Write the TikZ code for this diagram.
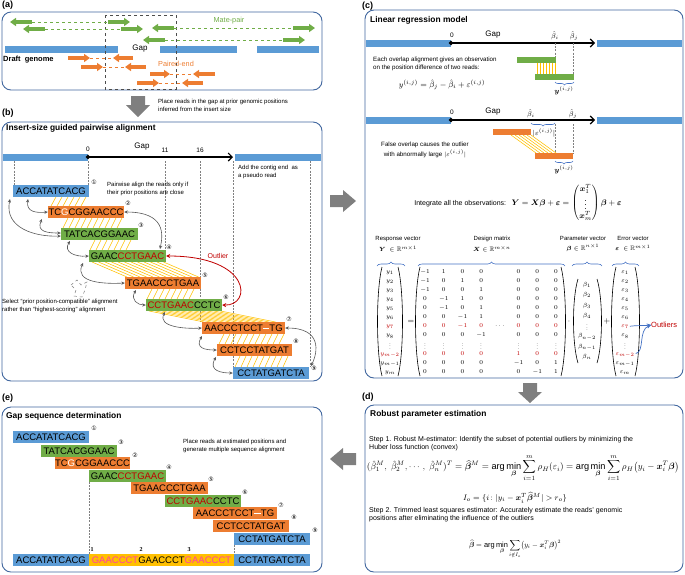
\documentclass[tikz,border=0pt]{standalone}
\usepackage{amsmath,amssymb,bm}
\usepackage{graphicx}
\usepackage{fontspec}
\setmainfont{Liberation Sans}
\newfontfamily\dejavu{DejaVu Sans}
\newfontfamily\serifnum{Liberation Serif}
\usetikzlibrary{arrows.meta,decorations.pathreplacing,shapes.geometric,calc,matrix}
\definecolor{cblue}{HTML}{5B9BD5}
\definecolor{cgreen}{HTML}{70AD47}
\definecolor{corange}{HTML}{ED7D31}
\definecolor{cyellow}{HTML}{FFC000}
\definecolor{cframe}{HTML}{41679F}
\definecolor{cred}{HTML}{C00000}
\definecolor{cbig}{HTML}{7F7F7F}
\definecolor{cmag}{HTML}{FF3FA4}
\definecolor{cbrace}{HTML}{4472C4}
\definecolor{carc}{HTML}{595959}
\newcommand{\svd}{\vcenter{\hbox{\scalebox{0.75}[0.62]{$\vdots$}}}}
\begin{document}
\begin{tikzpicture}[x=1pt,y=-1pt,
  panel/.style={draw=cframe,line width=0.9pt,rounded corners=9pt},
  plabel/.style={font=\bfseries\fontsize{9}{10}\selectfont,anchor=west,inner sep=0pt},
  ptitle/.style={font=\bfseries\fontsize{8.4}{10}\selectfont,anchor=west,inner sep=0pt},
  note/.style={font=\fontsize{6}{7}\selectfont,anchor=west,inner sep=0pt},
  stepnote/.style={font=\fontsize{7}{8}\selectfont,anchor=west,inner sep=0pt},
  rd/.style={inner sep=0pt,minimum height=12pt,text height=7pt,text depth=0.5pt,font=\fontsize{9.5}{10}\selectfont},
  bl/.style={rd,fill=cblue}, gr/.style={rd,fill=cgreen}, og/.style={rd,fill=corange},
  circ/.style={font=\dejavu\fontsize{6}{6}\selectfont,inner sep=0pt},
  yl/.style={draw=cyellow,line width=0.55pt},
  biarc/.style={draw=carc,line width=0.6pt,{Stealth[length=3.5pt,width=3.2pt]}-{Stealth[length=3.5pt,width=3.2pt]}},
  vdash/.style={draw=gray,line width=0.45pt,dash pattern=on 2pt off 1.2pt},
  garw/.style={draw=cgreen,line width=3.2pt,-{Triangle[length=6pt,width=8pt]}},
  oarw/.style={draw=corange,line width=3.2pt,-{Triangle[length=6pt,width=8pt]}},
  gdash/.style={draw=cgreen,line width=0.6pt,dashed},
  odash/.style={draw=corange,line width=0.6pt,dashed},
  dmd/.style={diamond,fill=black,inner sep=0pt,minimum size=5pt},
  axlab/.style={font=\fontsize{6.5}{7}\selectfont,inner sep=0pt},
  gaplab/.style={font=\fontsize{8}{9}\selectfont,inner sep=0pt},
  axarrow/.style={line width=1.1pt,-{Straight Barb[length=4pt,width=8pt]}},
  brc/.style={draw=cbrace,line width=0.6pt,decorate,decoration={brace,amplitude=3pt}},
  mcell/.style={inner sep=0pt,minimum height=9.1pt,text height=4.6pt,text depth=1.6pt,font=\fontsize{6.5}{7}\selectfont},
  xcell/.style={mcell,minimum width=18.7pt},
  bcell/.style={mcell,minimum height=10.3pt},
  redrow/.style={nodes={text=cred}},
  paren/.style={draw=black,line width=0.6pt}
]
\useasboundingbox (0,0) rectangle (685,574);

% ================= (a) =================
\node[plabel] at (2,5) {(a)};
\draw[panel] (2,12) rectangle (322,90);
\fill[cblue] (5,45.5) rectangle (118,52.5);
\fill[cblue] (160,45.5) rectangle (237,52.5);
\fill[cblue] (257,45.5) rectangle (319,52.5);
\node[gaplab] at (140,49) {Gap};
\node[font=\bfseries\fontsize{7.5}{9}\selectfont,anchor=west,inner sep=0pt] at (3,60) {Draft\ \ genome};
\draw[dashed,line width=0.7pt,draw=black!70] (105,15) rectangle (176,89);
% mate-pair
\draw[gdash] (32,22) -- (108,22); \draw[garw] (32,22) -- (10,22); \draw[garw] (108,22) -- (130,22);
\draw[gdash] (45,29) -- (121,29); \draw[garw] (45,29) -- (23,29); \draw[garw] (121,29) -- (143,29);
\draw[gdash] (174,28) -- (293,28); \draw[garw] (174,28) -- (152,28); \draw[garw] (293,28) -- (315,28);
\draw[gdash] (165,40) -- (283,40); \draw[garw] (165,40) -- (143,40); \draw[garw] (283,40) -- (305,40);
\node[text=cgreen,font=\fontsize{7.3}{8}\selectfont] at (229,21) {Mate-pair};
% paired-end
\draw[odash] (90,58) -- (113,58); \draw[oarw] (68,58) -- (90,58); \draw[oarw] (133,58) -- (113,58);
\draw[odash] (103,67) -- (125,67); \draw[oarw] (81,67) -- (103,67); \draw[oarw] (146,67) -- (125,67);
\draw[odash] (170,74) -- (193,74); \draw[oarw] (150,74) -- (170,74); \draw[oarw] (215,74) -- (193,74);
\draw[odash] (159,83) -- (182,83); \draw[oarw] (137,83) -- (159,83); \draw[oarw] (203,83) -- (182,83);
\node[text=corange,font=\fontsize{7.3}{8}\selectfont] at (176,64) {Paired-end};

% arrow a->b
\fill[cbig] (131,96) -- (145,96) -- (145,105) -- (150,105) -- (138,117) -- (126,105) -- (131,105) -- cycle;
\node[note] at (158,102) {Place reads in the gap at prior genomic positions};
\node[note] at (158,109) {inferred from the insert size};

% ================= (b) =================
\node[plabel] at (2,113) {(b)};
\draw[panel] (2,122) rectangle (322,381);
\node[ptitle] at (6,128) {Insert-size guided pairwise alignment};
\fill[cblue] (3,153.5) rectangle (88,160.5);
\fill[cblue] (235,153.5) rectangle (321,160.5);
\coordinate (gend) at (233,157);
\draw[axarrow] (88,157) -- (gend);
\node[dmd] (z0) at (88,157) {};
\node[axlab] at (88,149) {0};
\node[gaplab] at (142,147) {Gap};
\node[axlab] at (165,150) {11};
\node[axlab] at (200,150) {16};
\draw[vdash] (14,161) -- (14,185);
\draw[vdash] (88,161) -- (88,185);
\draw[vdash] (165,161) -- (165,250);
\draw[vdash] (200,161) -- (200,322);
\draw[vdash] (233,161) -- (233,367);
\draw[vdash] (310,161) -- (310,367);
\node[note] at (238,168) {Add the contig end\ \ as};
\node[note] at (238,176) {a pseudo read};
\node[note] at (107,185) {Pairwise align the reads only if};
\node[note] at (107,193) {their prior positions are close};

% alignment lines
\foreach \k in {0,...,5} \draw[yl] (56+6*\k,197) -- (51+6*\k,206);
\foreach \k in {0,...,9} \draw[yl] (68+6*\k,218) -- (63+6*\k,228);
\foreach \k in {0,...,6} \draw[yl] (95+6*\k,240) -- (90+6*\k,250);
\foreach \k in {0,...,11} \draw[yl] (92+6.5*\k,262) -- (127+6.5*\k,277);
\foreach \k in {0,...,7} \draw[yl] (152+6*\k,289) -- (147+6*\k,299);
\foreach \k in {0,...,11} \draw[yl] (149+6.5*\k,311) -- (204+6.5*\k,322);
\foreach \k in {0,...,10} \draw[yl] (224+6*\k,334) -- (219+6*\k,344);
\foreach \k in {0,...,8} \draw[yl] (240+6*\k,356) -- (235+6*\k,367);

% reads
\node[bl,minimum width=76pt] (b1) at (51,191) {ACCATATCACG};
\node[og,minimum width=76pt] (b2) at (86,212) {TC\textcolor{white}{G}CGGAACCC};
\node[gr,minimum width=77pt] (b3) at (99.5,234) {TATCACGGAAC};
\node[gr,minimum width=77pt] (b4) at (127.5,256) {GAAC\textcolor{cred}{CCTGAAC}};
\node[og,minimum width=76pt] (b5) at (163,283) {TGAACCCTGAA};
\node[gr,minimum width=76pt] (b6) at (184,305) {\textcolor{cred}{CCTGAAC}CCTC};
\node[og,minimum width=83pt] (b7) at (243.5,328) {AACCCTCCT\textcolor{white}{\rule[2.6pt]{6.5pt}{1pt}}TG};
\node[og,minimum width=75pt] (b8) at (254.5,350) {CCTCCTATGAT};
\node[bl,minimum width=76pt] (b9) at (271,373) {CCTATGATCTA};
\node[circ] at (94,182) {①};
\node[circ] at (128,203) {②};
\node[circ] at (141,225) {③};
\node[circ] at (169,247) {④};
\node[circ] at (205,275) {⑤};
\node[circ] at (226,297) {⑥};
\node[circ] at (289,319) {⑦};
\node[circ] at (296,341) {⑧};
\node[circ] at (314,368) {⑨};

% gray arcs
\coordinate (s12) at (28,199);
\coordinate (s13) at (10,199);
\coordinate (s23) at (42,219);
\coordinate (s34) at (70,241);
\coordinate (s45) at (83,263);
\coordinate (s56) at (136,290);
\coordinate (s67) at (165,312);
\coordinate (s78) at (202,336);
\coordinate (s89) at (216,357);
\coordinate (e24) at (160,249);
\coordinate (e79) at (311,366);
\draw[biarc] (s12) .. controls (26,212) and (36,213) .. (b2.west);
\draw[biarc] (s13) .. controls (4,228) and (35,237) .. ($(b3.west)+(0,2)$);
\draw[biarc] (s23) .. controls (36,232) and (48,233) .. ($(b3.west)+(0,-1)$);
\draw[biarc] (s34) .. controls (63,252) and (75,257) .. (b4.west);
\draw[biarc] (s45) .. controls (74,283) and (105,284) .. (b5.west);
\draw[biarc] (s56) .. controls (130,300) and (138,305) .. (b6.west);
\draw[biarc] (s67) .. controls (157,327) and (185,329) .. (b7.west);
\draw[biarc] (s78) .. controls (195,348) and (205,350) .. (b8.west);
\draw[biarc] (s89) .. controls (208,371) and (222,373) .. (b9.west);
\draw[biarc] (b2.east) .. controls (166,212) and (163,235) .. (e24);
\draw[biarc] (b7.east) .. controls (322,328) and (318,352) .. (e79);
\draw[draw=cred,line width=0.8pt,{Stealth[length=4pt,width=4pt]}-{Stealth[length=4pt,width=4pt]}] (b4.east) .. controls (252,256) and (252,306) .. (b6.east);
\node[text=cred,font=\fontsize{7}{8}\selectfont] at (218,256) {Outlier};
\draw[draw=gray,dashed,line width=0.5pt] (71,285) -- (77,280) -- (81,285) -- (87,282) -- (85,290) -- (82,297) -- (74,296) -- (76,290) -- cycle;
\node[note] at (2,302) {Select ``prior position-compatible'' alignment};
\node[note] at (2,310) {rather than ``highest-scoring'' alignment};

% arrow b->c
\fill[cbig] (330,195) -- (343,195) -- (343,190) -- (356,201) -- (343,212) -- (343,207) -- (330,207) -- cycle;

% ================= (c) =================
\node[plabel] at (362,6) {(c)};
\draw[panel] (365,10) rectangle (683,378);
\node[ptitle] at (370,20) {Linear regression model};
% axis 1
\fill[cblue] (366,39.5) rectangle (451,46.5);
\fill[cblue] (597,39.5) rectangle (682,46.5);
\coordinate (cg1) at (595,43);
\draw[axarrow] (451,43) -- (cg1);
\node[dmd] (c0) at (451,43) {};
\node[axlab] at (452,35) {0};
\node[gaplab] at (493,35) {Gap};
\node[font=\fontsize{7}{8}\selectfont] at (555,36) {$\hat\beta_i$};
\node[font=\fontsize{7}{8}\selectfont] at (574,36) {$\hat\beta_j$};
\draw[vdash] (555,43) -- (555,57);
\draw[vdash] (573,43) -- (573,74);
\fill[cgreen] (517,57) rectangle (556,63);
\fill[cgreen] (535,74) rectangle (574,80);
\foreach \k in {0,...,6} \draw[yl] (537+3*\k,63) -- (537+3*\k,74);
\draw[brc] (574,82) -- (555,82);
\node[font=\fontsize{7}{8}\selectfont] at (564,91) {$\bm{y}^{(i,j)}$};
\node[note,font=\fontsize{6.2}{7}\selectfont] at (373,60) {Each overlap alignment gives an observation};
\node[note,font=\fontsize{6.2}{7}\selectfont] at (373,68) {on the position difference of two reads:};
\node[font=\fontsize{8}{9}\selectfont] at (442,85) {$y^{(i,j)}=\hat\beta_j-\hat\beta_i+\varepsilon^{(i,j)}$};
% axis 2
\fill[cblue] (366,116.5) rectangle (451,123.5);
\fill[cblue] (597,116.5) rectangle (682,123.5);
\coordinate (cg2) at (595,120);
\draw[axarrow] (451,120) -- (cg2);
\node[dmd] (c0b) at (451,120) {};
\node[axlab] at (452,112) {0};
\node[gaplab] at (493,112) {Gap};
\node[font=\fontsize{7}{8}\selectfont] at (531,114) {$\hat\beta_i$};
\node[font=\fontsize{7}{8}\selectfont] at (573,114) {$\hat\beta_j$};
\draw[brc] (555,123) -- (531,123);
\node[font=\fontsize{7}{8}\selectfont] at (544,133) {$|\varepsilon^{(i,j)}|$};
\draw[vdash] (555,124) -- (555,153);
\draw[vdash] (573,124) -- (573,153);
\fill[corange] (493,129) rectangle (531,135);
\fill[corange] (535,153) rectangle (573,159);
\foreach \k in {0,...,5} \draw[yl] (511+4*\k,135) -- (536+4*\k,153);
\draw[brc] (573,161) -- (555,161);
\node[font=\fontsize{7}{8}\selectfont] at (564,170) {$\bm{y}^{(i,j)}$};
\node[font=\fontsize{6.2}{7}\selectfont,inner sep=0pt] at (425,145) {False overlap causes the outlier};
\node[font=\fontsize{6.2}{7}\selectfont,inner sep=0pt] at (425,154) {with abnormally large $|\varepsilon^{(i,j)}|$};
% integrate
\node[inner sep=0pt] at (518,203) {{\fontsize{7}{8}\selectfont Integrate all the observations:}\ \ {\fontsize{8.5}{9}\selectfont$\bm{Y}=\bm{X}\bm{\beta}+\bm{\varepsilon}=\begin{pmatrix}\bm{x}_1^T\\ \vdots\\ \bm{x}_m^T\end{pmatrix}\bm{\beta}+\bm{\varepsilon}$}};
% labels
\node[font=\fontsize{6}{7}\selectfont] at (398,239) {Response vector};
\node[font=\fontsize{6.5}{7}\selectfont] at (398,249) {$\bm{Y}\ \in\mathbb{R}^{m\times 1}$};
\node[font=\fontsize{6}{7}\selectfont] at (492,239) {Design matrix};
\node[font=\fontsize{6.5}{7}\selectfont] at (492,249) {$\bm{X}\in\mathbb{R}^{m\times n}$};
\node[font=\fontsize{6}{7}\selectfont] at (583,238) {Parameter vector};
\node[font=\fontsize{6.5}{7}\selectfont] at (583,248) {$\bm{\beta}\in\mathbb{R}^{n\times 1}$};
\node[font=\fontsize{6}{7}\selectfont] at (633,238) {Error vector};
\node[font=\fontsize{6.5}{7}\selectfont] at (633,248) {$\bm{\varepsilon}\ \in\mathbb{R}^{m\times 1}$};
\draw[brc,decoration={brace,amplitude=4pt}] (377,266) -- (405,266);
\draw[brc,decoration={brace,amplitude=4pt}] (418,266) -- (565,266);
\draw[brc,decoration={brace,amplitude=4pt}] (572,266) -- (602,266);
\draw[brc,decoration={brace,amplitude=4pt}] (612,266) -- (639,266);
% matrices
\matrix[matrix of math nodes,nodes={mcell},row 7/.style={redrow},row 10/.style={redrow}] (Ym) at (390,321.7) {
y_1\\ y_2\\ y_3\\ y_4\\ y_5\\ y_6\\ y_7\\ y_8\\ \svd\\ y_{m-2}\\ y_{m-1}\\ y_m\\};
\draw[paren] (382,267) .. controls (376,290) and (376,353) .. (382,376);
\draw[paren] (398,267) .. controls (404,290) and (404,353) .. (398,376);
\node[font=\fontsize{8}{9}\selectfont] (eq) at (411,321.7) {$=$};
\matrix[matrix of math nodes,nodes={xcell},row 7/.style={redrow},row 10/.style={redrow}] (Xm) at (490.5,321.7) {
-1 & 1 & 0 & 0 & & 0 & 0 & 0\\
-1 & 0 & 1 & 0 & & 0 & 0 & 0\\
-1 & 0 & 0 & 1 & & 0 & 0 & 0\\
0 & -1 & 1 & 0 & & 0 & 0 & 0\\
0 & -1 & 0 & 1 & & 0 & 0 & 0\\
0 & 0 & -1 & 1 & & 0 & 0 & 0\\
0 & 0 & -1 & 0 & |[text=black]|\cdots & 0 & 0 & 0\\
0 & 0 & 0 & -1 & & 0 & 0 & 0\\
\svd & \svd & \svd & \svd & & \svd & \svd & \svd\\
0 & 0 & 0 & 0 & & 1 & 0 & 0\\
0 & 0 & 0 & 0 & & -1 & 0 & 1\\
0 & 0 & 0 & 0 & & 0 & -1 & 1\\};
\draw[paren] (420,267) .. controls (414,290) and (414,353) .. (420,376);
\draw[paren] (561,267) .. controls (567,290) and (567,353) .. (561,376);
\node[font=\fontsize{8}{9}\selectfont] (dt) at (569,321.7) {$\cdot$};
\matrix[matrix of math nodes,nodes={bcell}] (Bm) at (587,321) {
\beta_1\\ \beta_2\\ \beta_3\\ \beta_4\\ \svd\\ \beta_{n-2}\\ \beta_{n-1}\\ \beta_n\\};
\draw[paren] (578,279) .. controls (572,298) and (572,344) .. (578,363);
\draw[paren] (597,279) .. controls (603,298) and (603,344) .. (597,363);
\node[font=\fontsize{8}{9}\selectfont] (pl) at (607,321.7) {$+$};
\matrix[matrix of math nodes,nodes={mcell},row 7/.style={redrow},row 10/.style={redrow}] (Em) at (625,321.7) {
\varepsilon_1\\ \varepsilon_2\\ \varepsilon_3\\ \varepsilon_4\\ \varepsilon_5\\ \varepsilon_6\\ \varepsilon_7\\ \varepsilon_8\\ \svd\\ \varepsilon_{m-2}\\ \varepsilon_{m-1}\\ \varepsilon_m\\};
\draw[paren] (616,267) .. controls (610,290) and (610,353) .. (616,376);
\draw[paren] (635,267) .. controls (641,290) and (641,353) .. (635,376);
\node[text=cred,font=\fontsize{7.5}{8}\selectfont,anchor=west,inner sep=0pt] (outl) at (651,325) {Outliers};
\draw[draw=cbrace,line width=0.7pt,-{Stealth[length=4pt,width=4pt]}] ($(Em-7-1.east)+(1,0)$) .. controls (640,325) and (643,326) .. (outl.west);
\draw[draw=cbrace,line width=0.7pt,-{Stealth[length=4pt,width=4pt]}] ($(Em-10-1.east)+(1,0)$) .. controls (645,352) and (638,330) .. (outl.west);

% arrow c->d
\fill[cbig] (523,383) -- (537,383) -- (537,392) -- (542,392) -- (530,403) -- (518,392) -- (523,392) -- cycle;

% ================= (d) =================
\node[plabel] at (362,397) {(d)};
\draw[panel] (365,405) rectangle (683,572);
\node[ptitle] at (370,414) {Robust parameter estimation};
\node[stepnote] at (369,440) {Step 1. Robust M-estimator: Identify the subset of potential outliers by minimizing the};
\node[stepnote] at (369,448) {Huber loss function (convex)};
\node at (523,468) {\resizebox{312pt}{!}{$\displaystyle (\hat\beta_1^M,\ \hat\beta_2^M,\cdots,\ \hat\beta_n^M)^T=\widehat{\bm{\beta}}^M=\arg\min_{\bm{\beta}}\sum_{i=1}^{m}\rho_H(\varepsilon_i)=\arg\min_{\bm{\beta}}\sum_{i=1}^{m}\rho_H\bigl(y_i-\bm{x}_i^T\bm{\beta}\bigr)$}};
\node[font=\fontsize{8.5}{9}\selectfont] at (515,498) {$I_o=\{i\colon |y_i-\bm{x}_i^T\widehat{\bm{\beta}}^M|>r_o\}$};
\node[stepnote] at (369,511) {Step 2. Trimmed least squares estimator: Accurately estimate the reads' genomic};
\node[stepnote] at (369,519) {positions after eliminating the influence of the outliers};
\node at (515,549) {\resizebox{92pt}{!}{$\displaystyle \widehat{\bm{\beta}}=\arg\min_{\bm{\beta}}\sum_{i\notin I_o}\bigl(y_i-\bm{x}_i^T\bm{\beta}\bigr)^2$}};

% arrow d->e
\fill[cbig] (356,453) -- (343,453) -- (343,448) -- (330,459) -- (343,470) -- (343,465) -- (356,465) -- cycle;

% ================= (e) =================
\node[plabel] at (2,398) {(e)};
\draw[panel] (2,407) rectangle (322,572);
\node[ptitle] at (6,416) {Gap sequence determination};
\node[note] at (183,442) {Place reads at estimated positions and};
\node[note] at (183,450) {generate multiple sequence alignment};
\draw[vdash] (89,482) -- (89,554);
\draw[vdash] (234,545) -- (234,554);
\node[bl,minimum width=76pt] (e1) at (51,437) {ACCATATCACG};
\node[gr,minimum width=76pt] (e3) at (79,451) {TATCACGGAAC};
\node[og,minimum width=75pt] (e2) at (92.5,463) {TC\textcolor{white}{G}CGGAACCC};
\node[gr,minimum width=77pt] (e4) at (127.5,476) {GAAC\textcolor{cred}{CCTGAAC}};
\node[og,minimum width=77pt] (e5) at (169.5,488) {TGAACCCTGAA};
\node[gr,minimum width=76pt] (e6) at (203,501) {\textcolor{cred}{CCTGAAC}CCTC};
\node[og,minimum width=84pt] (e7) at (235,513) {AACCCTCCT\textcolor{white}{\rule[2.6pt]{6.5pt}{1pt}}TG};
\node[og,minimum width=76pt] (e8) at (251,526) {CCTCCTATGAT};
\node[bl,minimum width=76pt] (e9) at (272,539) {CCTATGATCTA};
\node[circ] at (94,428) {①};
\node[circ] at (121,442) {③};
\node[circ] at (135,455) {②};
\node[circ] at (169,467) {④};
\node[circ] at (211,479) {⑤};
\node[circ] at (245,492) {⑥};
\node[circ] at (281,505) {⑦};
\node[circ] at (294,517) {⑧};
\node[circ] at (315,530) {⑨};
\node[bl,minimum width=76pt] (k1) at (51,560) {ACCATATCACG};
\node[rd,fill=cyellow,minimum width=145pt] (k2) at (161.5,560) {\textcolor{cmag}{GAACCCT}GAACCCT\textcolor{cmag}{GAACCCT}};
\node[bl,minimum width=76pt] (k3) at (272,560) {CCTATGATCTA};
\node[font=\serifnum\bfseries\fontsize{6}{6}\selectfont,inner sep=0pt] at (92,550) {1};
\node[font=\serifnum\bfseries\fontsize{6}{6}\selectfont,inner sep=0pt] at (141,550) {2};
\node[font=\serifnum\bfseries\fontsize{6}{6}\selectfont,inner sep=0pt] at (189,550) {3};
\end{tikzpicture}
\end{document}
